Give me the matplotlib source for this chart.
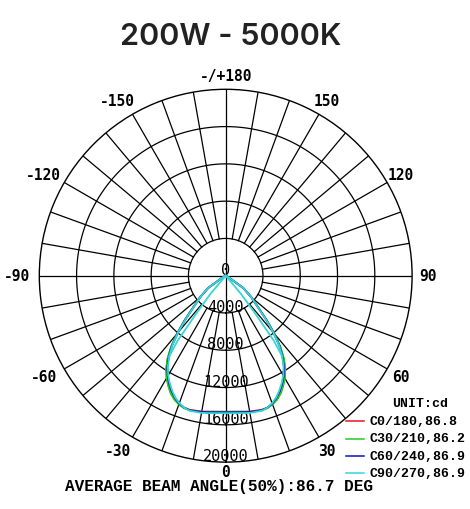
import numpy as np
import matplotlib
matplotlib.use("Agg")
import matplotlib.pyplot as plt
from matplotlib.lines import Line2D

# ---------------- data ----------------
title = "200W - 5000K"
gamma_deg = [0, 5, 10, 15, 17.5, 20, 22.5, 25, 27.5, 30, 32.5, 35, 37.5, 40, 42.5, 45, 50, 55, 60, 65, 70, 80, 90]
c0_cd   = [14600, 14650, 14800, 14900, 14850, 14650, 14350, 13900, 13300, 12650, 11850, 10850, 9600, 8100, 6550, 5150, 3600, 2300, 450, 60, 0, 0, 0]
c30_cd  = [14600, 14650, 14850, 14950, 14900, 14700, 14400, 13950, 13350, 12700, 11900, 10900, 9650, 8150, 6600, 5200, 3600, 2300, 450, 60, 0, 0, 0]
c60_cd  = [14650, 14700, 14850, 14950, 14850, 14600, 14200, 13700, 13100, 12450, 11650, 10650, 9450, 8000, 6500, 5100, 3550, 2300, 400, 50, 0, 0, 0]
c90_cd  = [14750, 14800, 14950, 15000, 14850, 14550, 14150, 13600, 13000, 12350, 11550, 10550, 9400, 7950, 6450, 5050, 3550, 2300, 400, 50, 0, 0, 0]
c90_cut_gamma = [35, 36.5, 38, 40, 42.5]
c90_cut_cd    = [10550, 8700, 5000, 2600, 0]

series_names  = ["C0/180,86.8", "C30/210,86.2", "C60/240,86.9", "C90/270,86.9"]
series_values = [c0_cd, c30_cd, c60_cd, c90_cd]
series_colors = ["#e8161b", "#22cc22", "#1010c0", "#35d6d6"]

ring_values = [0, 4000, 8000, 12000, 16000, 20000]
angle_ticks = [0, 30, 60, 90, 120, 150, 180, -150, -120, -90, -60, -30]
angle_labels = ["0", "30", "60", "90", "120", "150", "-/+180", "-150", "-120", "-90", "-60", "-30"]
unit_text = "UNIT:cd"
beam_text = "AVERAGE BEAM ANGLE(50%):86.7 DEG"

# ---------------- figure ----------------
W, H = 470, 510
fig = plt.figure(figsize=(W / 100, H / 100), dpi=100)
cx, cy, R = 225.7, 276.7, 186.4
ax = fig.add_axes([(cx - R) / W, 1 - (cy + R) / H, 2 * R / W, 2 * R / H], projection="polar")
ax.set_theta_zero_location("S")
ax.set_theta_direction(1)
rmax = ring_values[-1]
ax.set_ylim(0, rmax)
ax.grid(False)
ax.set_xticks([])
ax.set_yticks([])
ax.spines["polar"].set_linewidth(1.0)
ax.spines["polar"].set_color("black")

# grid circles
tt = np.linspace(0, 2 * np.pi, 721)
for rv in ring_values[1:-1]:
    ax.plot(tt, np.full_like(tt, rv), color="black", lw=0.9, zorder=1)
# spokes
for a in range(0, 360, 10):
    th = np.deg2rad(a)
    r0 = 0 if a % 90 == 0 else ring_values[1]
    ax.plot([th, th], [r0, rmax], color="black", lw=0.9, zorder=1)

# ring labels
for rv in ring_values:
    ax.annotate(str(rv), xy=(0, rv), xytext=(0, 6.5), textcoords="offset pixels",
                ha="center", va="center", fontsize=11, family="DejaVu Sans Mono",
                color="black", zorder=3, annotation_clip=False)

# angle labels
R_lab = rmax * 202 / R
for a, lab in zip(angle_ticks, angle_labels):
    dx = -7 if a < 0 else 0
    if a == 0:
        rr = rmax * 195.5 / R
    elif a == 180:
        rr = rmax * 200 / R
    else:
        rr = R_lab
    ax.annotate(lab, xy=(np.deg2rad(a), rr), xytext=(dx, 0), textcoords="offset pixels",
                ha="center", va="center", fontsize=10.5, fontweight="bold",
                family="DejaVu Sans Mono", color="black", annotation_clip=False)

# curves (both halves)
g = np.array(gamma_deg, dtype=float)
for vals, col in zip(series_values, series_colors):
    v = np.array(vals, dtype=float)
    th = np.deg2rad(np.concatenate([-g[::-1], g[1:]]))
    rr = np.concatenate([v[::-1], v[1:]])
    ax.plot(th, rr, color=col, lw=1.3, zorder=4)
gc = np.array(c90_cut_gamma)
vc = np.array(c90_cut_cd, dtype=float)
for sgn in (1, -1):
    ax.plot(np.deg2rad(sgn * gc), vc, color=series_colors[3], lw=1.3, zorder=4)

# title
fig.text(231 / W, 1 - 37 / H, title, ha="center", va="center", fontsize=22,
         family="Inter", fontweight="semibold", color="#222222")

# legend
fig.text(420 / W, 1 - 404 / H, unit_text, ha="center", va="center", fontsize=9.5,
         family="Liberation Mono", fontweight="bold", color="black")
rows = [422, 439.5, 457, 474]
for name, col, yy in zip(series_names, series_colors, rows):
    fig.add_artist(Line2D([346 / W, 364 / W], [1 - yy / H, 1 - yy / H], color=col, lw=1.1,
                          transform=fig.transFigure))
    fig.text(370 / W, 1 - yy / H, name, ha="left", va="center", fontsize=9.5,
             family="Liberation Mono", fontweight="bold", color="black")

# beam angle text
fig.text(219 / W, 1 - 487 / H, beam_text, ha="center", va="center", fontsize=11.5,
         family="Liberation Mono", fontweight="bold", color="black")

fig.savefig("out.png", dpi=100, facecolor="white")
